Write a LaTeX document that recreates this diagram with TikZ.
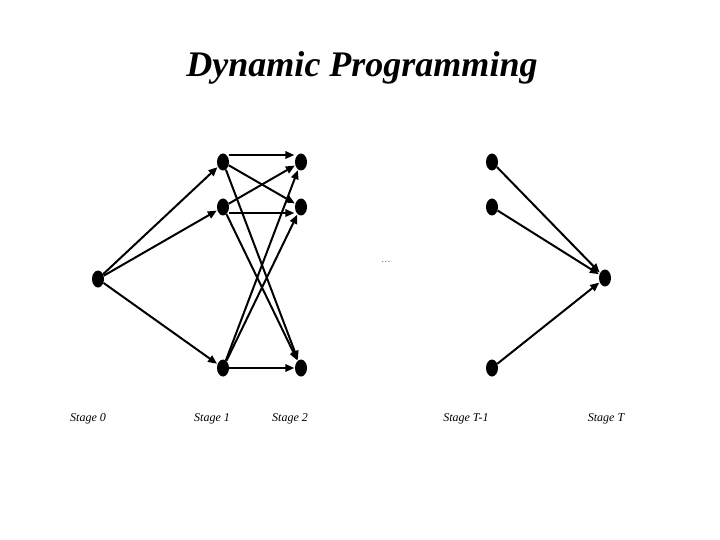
\documentclass[tikz,border=0pt]{standalone}
\usepackage{fontspec}
\setmainfont{Liberation Serif}
\usetikzlibrary{arrows.meta,shapes.geometric}
\begin{document}
\begin{tikzpicture}[x=1pt,y=-1pt,
  dot/.style={ellipse, fill=black, minimum width=12pt, minimum height=17pt, inner sep=0pt},
  arr/.style={-{Triangle[length=9pt,width=7.5pt]}, line width=2pt, shorten >=0.5pt},
  lbl/.style={font=\itshape\fontsize{12}{14}\selectfont}]
\useasboundingbox (0,0) rectangle (720,540);
\node[font=\bfseries\itshape\fontsize{36}{42}\selectfont] (title) at (362,68) {Dynamic Programming};
\node[dot] (s0) at (98,279) {};
\node[dot] (s1a) at (223,162) {};
\node[dot] (s1b) at (223,207) {};
\node[dot] (s1c) at (223,368) {};
\node[dot] (s2a) at (301,162) {};
\node[dot] (s2b) at (301,207) {};
\node[dot] (s2c) at (301,368) {};
\node[dot] (t1a) at (492,162) {};
\node[dot] (t1b) at (492,207) {};
\node[dot] (t1c) at (492,368) {};
\node[dot] (t) at (605,278) {};
\node[font=\fontsize{8}{9}\selectfont] (dots) at (386,262) {.\kern1.2pt.\kern1.2pt.};
\draw[arr] (s0) -- (s1a);
\draw[arr] (s0) -- (s1b);
\draw[arr] (s0) -- (s1c);
\draw[arr] ([yshift=7pt]s1a.east) -- ([yshift=7pt]s2a.west);
\draw[arr] (s1a) -- (s2b);
\draw[arr] (s1a) -- (s2c);
\draw[arr] (s1b) -- (s2a);
\draw[arr] ([yshift=-6pt]s1b.east) -- ([yshift=-6pt]s2b.west);
\draw[arr] (s1b) -- (s2c);
\draw[arr] (s1c) -- (s2a);
\draw[arr] (s1c) -- (s2b);
\draw[arr] (s1c) -- (s2c);
\draw[arr] (t1a) -- (t);
\draw[arr] (t1b) -- (t);
\draw[arr] (t1c) -- (t);
\node[lbl] (l0) at (88,419) {Stage 0};
\node[lbl] (l1) at (212,419) {Stage 1};
\node[lbl] (l2) at (290,419) {Stage 2};
\node[lbl] (l3) at (466,419) {Stage T-1};
\node[lbl] (l4) at (606,419) {Stage T};
\end{tikzpicture}
\end{document}
